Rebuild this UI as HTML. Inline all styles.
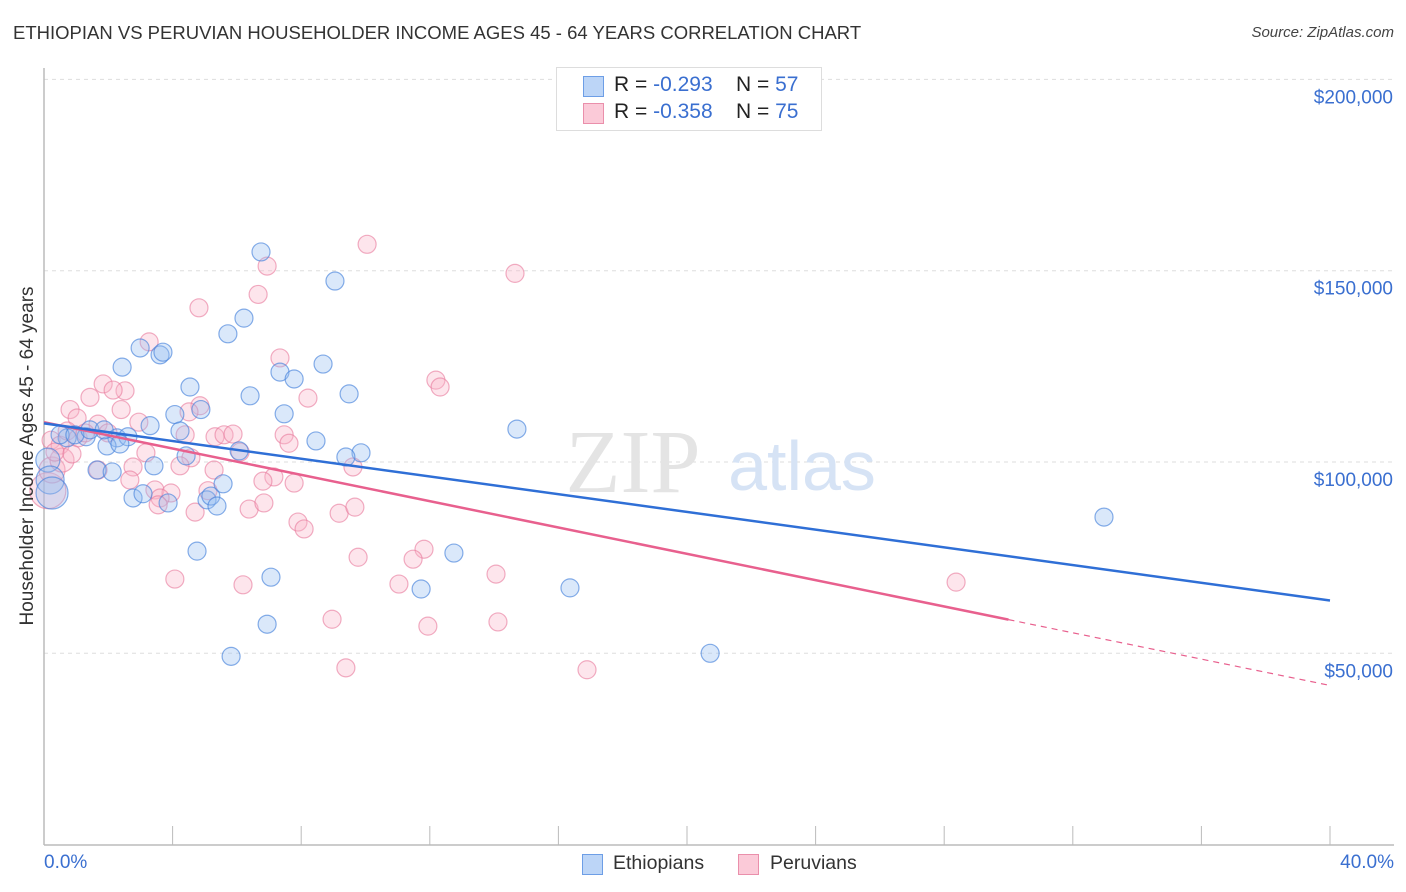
<!DOCTYPE html>
<html><head><meta charset="utf-8">
<style>
body{margin:0;background:#fff;font-family:"Liberation Sans",sans-serif;}
#wrap{position:relative;width:1406px;height:892px;overflow:hidden;}
.t{position:absolute;white-space:nowrap;}
</style></head>
<body>
<div id="wrap">
<div class="t" style="left:13px;top:22px;font-size:18.5px;color:#333;">ETHIOPIAN VS PERUVIAN HOUSEHOLDER INCOME AGES 45 - 64 YEARS CORRELATION CHART</div>
<div class="t" style="right:12px;top:24px;font-size:15px;color:#444;font-style:italic;">Source: ZipAtlas.com</div>
<svg id="svg" width="1406" height="892" style="position:absolute;left:0;top:0"></svg>
</div>
<script>
const ethX=[6.75,9.05,6.22,5.72,2.99,3.61,3.70,2.43,8.68,7.34,7.78,4.54,6.41,9.49,4.88,7.47,4.07,3.30,4.23,14.71,8.46,6.07,4.42,9.86,9.39,2.27,2.61,1.96,0.72,1.31,1.65,2.12,3.42,2.77,3.08,3.86,5.07,5.19,5.38,5.57,4.76,12.75,7.06,11.73,16.36,6.94,5.82,20.72,32.97,0.12,0.19,0.25,0.50,0.96,1.43,1.87,2.36];
const ethY=[154.9,147.3,137.6,133.5,129.8,128,128.7,124.8,125.6,123.5,121.7,119.6,117.3,117.8,113.7,112.6,112.4,109.5,108.1,108.6,105.5,102.9,101.6,102.4,101.3,106.3,106.6,104.2,106.3,106.6,97.9,97.4,99,90.6,91.7,89.3,90.1,91.1,88.5,94.3,76.7,76.2,69.9,66.8,67.1,57.6,49.2,50,85.6,100.5,95.3,91.9,107.1,107.1,108.4,108.4,104.7];
const ethR=[9,9,9,9,9,9,9,9,9,9,9,9,9,9,9,9,9,9,9,9,9,9,9,9,9,9,9,9,9,9,9,9,9,9,9,9,9,9,9,9,9,9,9,9,9,9,9,9,9,12,14,16,9,9,9,9,9];
const perX=[10.05,6.94,14.65,6.66,4.82,3.27,7.34,1.84,2.52,2.15,12.19,12.32,8.21,4.85,4.51,2.40,0.81,1.03,1.43,2.95,1.68,0.22,0.50,0.72,1.06,1.99,4.39,5.32,5.60,5.88,7.47,7.62,6.10,9.61,5.29,7.15,7.78,6.81,2.77,3.17,4.57,4.23,1.68,2.67,3.45,3.95,3.61,5.10,3.55,4.70,6.38,6.84,7.90,8.09,9.18,9.67,11.82,11.48,9.77,14.06,4.07,6.19,11.04,28.37,8.96,11.94,14.12,9.39,16.89,0.12,0.25,0.56,0.34,0.87,1.28];
const perY=[156.9,151.2,149.3,143.8,140.3,131.4,127.2,120.4,118.6,118.8,121.4,119.6,116.7,114.7,113.1,113.7,113.7,111.5,116.9,110.4,109.9,105.7,104.4,108.1,106.3,107.6,107.1,106.6,107.1,107.3,107.1,104.9,102.6,98.7,97.9,96.1,94.5,95,98.7,102.4,101.1,99,97.9,95.3,92.7,91.9,90.6,92.5,88.8,86.9,87.7,89.3,84.3,82.5,86.6,88.2,77.2,74.6,75.1,70.7,69.4,67.9,68.1,68.6,58.9,57.1,58.2,46.2,45.7,92.5,97.9,100.5,102.6,102.1,107.6];
const perR=new Array(75).fill(9);perR[69]=18;perR[70]=13;perR[71]=12;
const ethTrend=[110.1,63.8];
const perTrend=[110.4,41.6];
const perSolidEnd=30.0;
const yTicks=[50,100,150,200];
const yTickLabels=["$50,000","$100,000","$150,000","$200,000"];
const xTicks=[0,4,8,12,16,20,24,28,32,36,40];

const X0=44,X1=1330,Y0=844.6;
const sx=v=>X0+v/40*(X1-X0);
const sy=v=>Y0-v*3.826;
const NS="http://www.w3.org/2000/svg";
const svg=document.getElementById('svg');
function mk(tag,attrs){const e=document.createElementNS(NS,tag);for(const k in attrs)e.setAttribute(k,attrs[k]);svg.appendChild(e);return e;}

yTicks.forEach((v,i)=>{
  const g=mk('line',{x1:X0,x2:1394,y1:sy(v),y2:sy(v),stroke:'#ddd','stroke-dasharray':'4,4','stroke-width':1});
  
  
  const t=mk('text',{x:1393,y:sy(v)+24,'text-anchor':'end','font-size':19,fill:'#3a6fd0','font-family':'Liberation Sans, sans-serif'});
  t.textContent=yTickLabels[i];
  
  
});
const ax=mk('line',{x1:X0,x2:X0,y1:68,y2:845,stroke:'#bbb','stroke-width':1.5});


const bx=mk('line',{x1:X0,x2:1394,y1:845,y2:845,stroke:'#bbb','stroke-width':1.5});


xTicks.forEach(v=>{
  const l=mk('line',{x1:sx(v),x2:sx(v),y1:826,y2:845,stroke:'#bbb','stroke-width':1});
  
  
});

const w1=mk('text',{x:633,y:492,'text-anchor':'middle','font-size':90,fill:'#e4e4e4','font-family':'Liberation Serif, serif'});
w1.textContent='ZIP';


const w2=mk('text',{x:802,y:490,'text-anchor':'middle','font-size':70,fill:'#d6e3f5','font-family':'Liberation Sans, sans-serif'});
w2.textContent='atlas';



perX.forEach((v,i)=>{
  const c=mk('circle',{cx:sx(v),cy:sy(perY[i]),r:perR[i],fill:'rgba(248,180,200,0.35)',stroke:'rgba(232,120,155,0.6)','stroke-width':1.2});
  
  
});
ethX.forEach((v,i)=>{
  const c=mk('circle',{cx:sx(v),cy:sy(ethY[i]),r:ethR[i],fill:'rgba(150,190,240,0.35)',stroke:'rgba(70,130,220,0.65)','stroke-width':1.2});
  
  
});

const pAt=x=>perTrend[0]+(perTrend[1]-perTrend[0])*x/40;
const pl=mk('line',{x1:sx(0),y1:sy(pAt(0)),x2:sx(perSolidEnd),y2:sy(pAt(perSolidEnd)),stroke:'#e8608e','stroke-width':2.5});


const pd=mk('line',{x1:sx(perSolidEnd),y1:sy(pAt(perSolidEnd)),x2:sx(40),y2:sy(pAt(40)),stroke:'#e8608e','stroke-width':1.2,'stroke-dasharray':'6,5'});


const el=mk('line',{x1:sx(0),y1:sy(ethTrend[0]),x2:sx(40),y2:sy(ethTrend[1]),stroke:'#2f6fd6','stroke-width':2.5});


</script>

<div class="t" style="left:28px;top:456px;font-size:19px;color:#333;transform:translate(-50%,-50%) rotate(-90deg);">Householder Income Ages 45 - 64 years</div>
<div class="t" style="left:44px;top:852px;font-size:19px;color:#3a6fd0;">0.0%</div>
<div class="t" style="right:12px;top:852px;font-size:19px;color:#3a6fd0;">40.0%</div>

<div style="position:absolute;left:556px;top:67px;width:264px;height:62px;border:1px solid #ddd;background:#fff;font-size:21px;">
  <div style="position:absolute;left:26px;top:8px;width:19px;height:19px;background:#bcd5f7;border:1px solid #6d9ee6;"></div>
  <div class="t" style="left:57px;top:5px;color:#222;">R = <span style="color:#3a6fd0">-0.293</span>&nbsp;&nbsp;&nbsp;&nbsp;N = <span style="color:#3a6fd0">57</span></div>
  <div style="position:absolute;left:26px;top:35px;width:19px;height:19px;background:#fbcad8;border:1px solid #ea8fab;"></div>
  <div class="t" style="left:57px;top:32px;color:#222;">R = <span style="color:#3a6fd0">-0.358</span>&nbsp;&nbsp;&nbsp;&nbsp;N = <span style="color:#3a6fd0">75</span></div>
</div>

<div style="position:absolute;left:582px;top:852px;font-size:19.5px;color:#333;">
  <div style="position:absolute;left:0;top:2px;width:19px;height:19px;background:#bcd5f7;border:1px solid #6d9ee6;"></div>
  <div class="t" style="left:31px;top:0;">Ethiopians</div>
  <div style="position:absolute;left:156px;top:2px;width:19px;height:19px;background:#fbcad8;border:1px solid #ea8fab;"></div>
  <div class="t" style="left:188px;top:0;">Peruvians</div>
</div>
</body></html>
